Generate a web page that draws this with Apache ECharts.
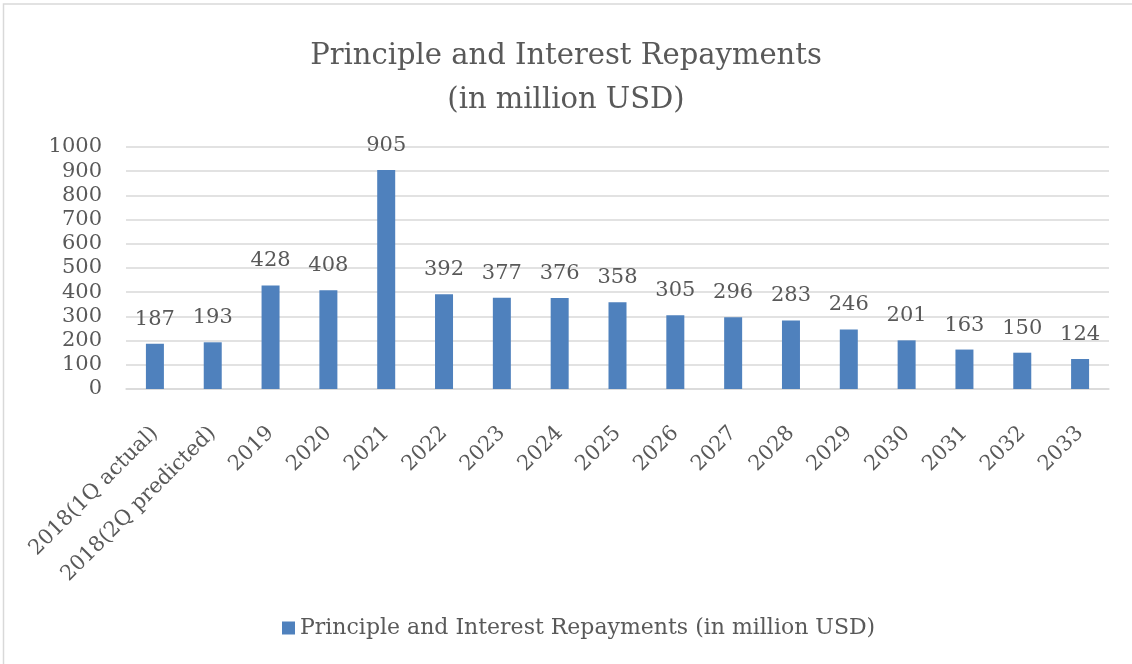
<!DOCTYPE html>
<html>
<head>
<meta charset="utf-8">
<style>
  html, body { margin: 0; padding: 0; background: #ffffff; }
  #chart { width: 1132px; height: 664px; }
</style>
<script src="https://cdn.jsdelivr.net/npm/echarts@6/dist/echarts.min.js"></script>
</head>
<body>
<div id="chart"></div>
<script>
// Repayment schedule, million USD
const categories = [
  '2018(1Q actual)', '2018(2Q predicted)', '2019', '2020', '2021', '2022', '2023',
  '2024', '2025', '2026', '2027', '2028', '2029', '2030', '2031', '2032', '2033'
];
const repayments = [187, 193, 428, 408, 905, 392, 377, 376, 358, 305, 296, 283, 246, 201, 163, 150, 124];
const seriesName = 'Principle and Interest Repayments (in million USD)';
const titleLines = ['Principle and Interest Repayments', '(in million USD)'];

const FONT = '"DejaVu Serif", "Liberation Serif", serif';
const TEXT = '#595959';

const chart = echarts.init(document.getElementById('chart'), null, { renderer: 'canvas' });

chart.setOption({
  backgroundColor: '#ffffff',
  animation: false,
  graphic: [{
    type: 'rect',
    shape: { x: 3.5, y: 4, width: 1200, height: 700 },
    style: { fill: 'none', stroke: '#d9d9d9', lineWidth: 1.5 },
    silent: true
  }],
  title: {
    text: titleLines.join('\n'),
    left: 'center',
    top: 29,
    textStyle: {
      fontFamily: FONT,
      fontSize: 29,
      fontWeight: 'normal',
      color: TEXT,
      lineHeight: 44
    }
  },
  legend: {
    bottom: 20,
    left: 277,
    itemWidth: 13,
    itemHeight: 13,
    itemGap: 6,
    icon: 'rect',
    textStyle: { fontFamily: FONT, fontSize: 22, color: TEXT },
    data: [seriesName]
  },
  grid: { left: 126, right: 23, top: 147, bottom: 275, containLabel: false },
  xAxis: {
    type: 'category',
    data: categories,
    axisLine: { show: true, lineStyle: { color: '#d9d9d9', width: 1.5 } },
    axisTick: { show: false },
    axisLabel: {
      rotate: 45,
      interval: 0,
      margin: 41,
      fontFamily: FONT,
      fontSize: 21,
      color: TEXT
    }
  },
  yAxis: {
    type: 'value',
    min: 0,
    max: 1000,
    interval: 100,
    axisLine: { show: false },
    axisTick: { show: false },
    splitLine: { lineStyle: { color: '#d9d9d9', width: 1.5 } },
    axisLabel: {
      margin: 24,
      fontFamily: FONT,
      fontSize: 21,
      color: TEXT,
      formatter: (v) => String(v)
    }
  },
  series: [{
    name: seriesName,
    type: 'bar',
    data: repayments,
    barWidth: 18,
    itemStyle: { color: '#4f81bd' },
    label: {
      show: true,
      position: 'top',
      distance: 14,
      fontFamily: FONT,
      fontSize: 21,
      color: TEXT
    }
  }]
});
</script>
</body>
</html>
